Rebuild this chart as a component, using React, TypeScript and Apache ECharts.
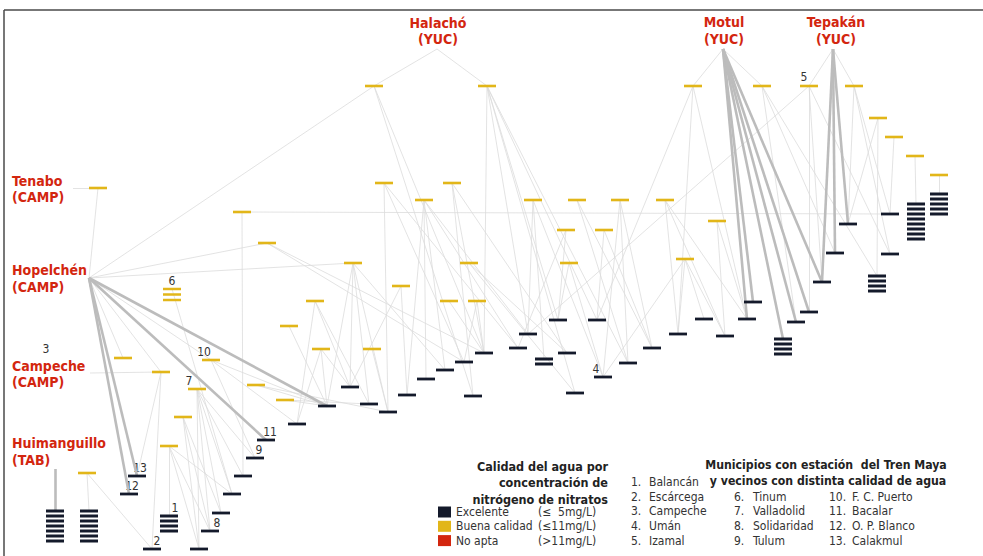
import React, { useEffect, useRef } from "react";
import * as echarts from "echarts";

// ---------- DATA ----------
// origins (municipios with red label): id, x, y
const origins: [string, number, number][] = [
  ["Hal", 437, 49], ["Mot", 723, 49], ["Tep", 833, 49],
  ["Ten", 73, 188], ["Hop", 89, 278], ["Cam", 90, 373], ["Hui", 55, 469],
];

// stations with "Buena calidad" (yellow): id, x, y, number of stations stacked
const yellowNodes: [string, number, number, number][] = [
  ["Y1", 374, 86, 1], ["Y2", 487, 86, 1], ["Y3", 693, 86, 1], ["Y4", 762, 86, 1], ["Y5", 809, 86, 1], ["Y6", 854, 86, 1],
  ["Y7", 878, 118, 1], ["Y8", 894, 137, 1], ["Y9", 915, 156, 1], ["Y10", 939, 175, 1],
  ["Y11", 98, 188, 1], ["Y12", 384, 183, 1], ["Y13", 452, 183, 1], ["Y14", 424, 200, 1], ["Y15", 533, 200, 1],
  ["Y16", 577, 200, 1], ["Y17", 620, 200, 1], ["Y18", 665, 200, 1],
  ["Y19", 242, 212, 1], ["Y20", 717, 221, 1], ["Y21", 566, 230, 1], ["Y22", 604, 230, 1], ["Y23", 267, 243, 1],
  ["Y24", 353, 263, 1], ["Y25", 469, 263, 1], ["Y26", 569, 263, 1], ["Y27", 685, 259, 1],
  ["Y28", 401, 286, 1], ["Y29", 315, 301, 1], ["Y30", 449, 301, 1], ["Y31", 477, 301, 1], ["Y32", 289, 326, 1],
  ["Y33", 321, 349, 1], ["Y34", 372, 349, 1], ["Y35", 123, 358, 1], ["Y36", 161, 372, 1], ["Y37", 211, 360, 1],
  ["Y38", 197, 389, 1], ["Y39", 256, 385, 1], ["Y40", 285, 400, 1], ["Y41", 183, 417, 1], ["Y42", 169, 446, 1],
  ["Y43", 87, 473, 1], ["Y44", 172, 289, 3],
];

// stations with "Excelente" quality (dark): id, x, y, number of stations stacked
const darkNodes: [string, number, number, number][] = [
  ["D1", 55, 511, 7], ["D2", 89, 511, 7], ["D3", 169, 516, 4], ["D4", 152, 549, 1], ["D5", 199, 549, 1],
  ["D6", 210, 531, 1], ["D7", 221, 513, 1], ["D8", 232, 494, 1], ["D9", 243, 476, 1], ["D10", 255, 458, 1],
  ["D11", 266, 440, 1], ["D12", 129, 494, 1], ["D13", 137, 476, 1], ["D14", 297, 424, 1], ["D15", 327, 406, 1],
  ["D16", 350, 387, 1], ["D17", 369, 404, 1], ["D18", 388, 412, 1], ["D19", 407, 395, 1], ["D20", 426, 379, 1],
  ["D21", 445, 370, 1], ["D22", 464, 362, 1], ["D23", 484, 353, 1], ["D24", 473, 396, 1], ["D25", 518, 348, 1],
  ["D26", 528, 334, 1], ["D27", 544, 359, 2], ["D28", 558, 320, 1], ["D29", 567, 353, 1], ["D30", 575, 393, 1],
  ["D31", 597, 320, 1], ["D32", 603, 377, 1], ["D33", 628, 363, 1], ["D34", 652, 348, 1], ["D35", 678, 334, 1],
  ["D36", 704, 319, 1], ["D37", 725, 336, 1], ["D38", 747, 319, 1], ["D39", 753, 302, 1], ["D40", 783, 339, 4],
  ["D41", 796, 322, 1], ["D42", 809, 312, 1], ["D43", 822, 282, 1], ["D44", 835, 253, 1], ["D45", 848, 224, 1],
  ["D46", 877, 276, 4], ["D47", 890, 254, 1], ["D48", 890, 214, 1], ["D49", 916, 204, 8], ["D50", 939, 194, 5],
];

// weak links (neighbour relations)
const thinLinks: [string, string][] = [
  ["Hal", "Y1"], ["Hal", "Y2"], ["Mot", "Y3"], ["Mot", "Y4"], ["Tep", "Y5"], ["Tep", "Y6"],
  ["Ten", "Y11"], ["Hop", "Y11"], ["Hop", "Y1"], ["Hop", "Y23"], ["Hop", "Y24"], ["Hop", "Y35"], ["Hop", "Y36"],
  ["Hop", "Y37"], ["Cam", "Y36"],
  ["Y1", "D23"], ["Y1", "D24"],
  ["Y2", "D23"], ["Y2", "D26"], ["Y2", "D28"], ["Y2", "D31"], ["Y2", "D30"], ["Y2", "D33"],
  ["Y3", "D31"], ["Y3", "D38"], ["Y3", "D35"],
  ["Y4", "D41"], ["Y4", "D44"], ["Y4", "D46"],
  ["Y5", "D43"], ["Y5", "D47"], ["Y5", "D26"], ["Y5", "D42"],
  ["Y6", "D45"], ["Y6", "D47"], ["Y6", "D48"],
  ["Y7", "D46"], ["Y7", "D45"], ["Y8", "D48"], ["Y9", "D49"], ["Y10", "D50"],
  ["Y12", "D18"], ["Y12", "D22"], ["Y12", "D25"],
  ["Y13", "D23"], ["Y13", "D29"], ["Y13", "D24"],
  ["Y14", "D19"], ["Y14", "D20"], ["Y14", "D21"], ["Y14", "D26"], ["Y14", "D25"],
  ["Y15", "D26"], ["Y15", "D27"], ["Y15", "D32"],
  ["Y16", "D33"], ["Y16", "D34"],
  ["Y17", "D32"], ["Y17", "D33"], ["Y17", "D34"],
  ["Y18", "D35"], ["Y18", "D37"], ["Y18", "D38"],
  ["Y19", "D48"], ["Y19", "D9"],
  ["Y20", "D37"], ["Y20", "D38"],
  ["Y21", "D28"], ["Y21", "D25"],
  ["Y22", "D34"], ["Y22", "D31"],
  ["Y23", "D22"], ["Y23", "D23"],
  ["Y24", "D15"], ["Y24", "D16"], ["Y24", "D17"], ["Y24", "D18"], ["Y24", "D21"],
  ["Y25", "D29"], ["Y25", "D30"],
  ["Y26", "D32"], ["Y26", "D28"],
  ["Y27", "D35"], ["Y27", "D36"], ["Y27", "D37"], ["Y27", "D32"],
  ["Y28", "D16"], ["Y28", "D19"],
  ["Y29", "D14"], ["Y29", "D16"], ["Y29", "D17"],
  ["Y30", "D23"], ["Y31", "D23"], ["Y31", "D22"],
  ["Y32", "D15"],
  ["Y33", "D14"], ["Y33", "D15"], ["Y33", "D16"],
  ["Y34", "D18"],
  ["Y36", "D4"], ["Y36", "D13"],
  ["Y37", "D14"], ["Y37", "D15"], ["Y37", "D10"],
  ["Y38", "D5"], ["Y38", "D6"], ["Y38", "D7"], ["Y38", "D8"], ["Y38", "D9"], ["Y38", "D10"],
  ["Y39", "D15"], ["Y39", "D18"],
  ["Y40", "D15"], ["Y40", "D17"],
  ["Y41", "D5"], ["Y41", "D6"], ["Y41", "D7"],
  ["Y42", "D3"], ["Y42", "D5"], ["Y42", "D6"], ["Y42", "D8"],
  ["Y43", "D2"], ["Y43", "D4"],
  ["Y44", "D8"],
];

// strong links (municipio -> station with different water quality)
const thickLinks: [string, string][] = [
  ["Hop", "D12"], ["Hop", "D13"], ["Hop", "D11"], ["Hop", "D15"], ["Hui", "D1"],
  ["Mot", "D38"], ["Mot", "D39"], ["Mot", "D40"], ["Mot", "D41"], ["Mot", "D42"], ["Mot", "D43"],
  ["Tep", "D43"], ["Tep", "D44"], ["Tep", "D45"],
];

// numbered Tren Maya municipios: node id, number
const numberedNodes: [string, string][] = [
  ["D3", "1"], ["D4", "2"], ["Cam", "3"], ["D32", "4"], ["Y5", "5"], ["Y44", "6"], ["Y38", "7"],
  ["D6", "8"], ["D10", "9"], ["Y37", "10"], ["D11", "11"], ["D12", "12"], ["D13", "13"],
];

const municipioNames: string[] = [
  "Balancán", "Escárcega", "Campeche", "Umán", "Izamal", "Tinum", "Valladolid",
  "Solidaridad", "Tulum", "F. C. Puerto", "Bacalar", "O. P. Blanco", "Calakmul",
];

const qualityClasses: [string, string][] = [
  ["Excelente", "(≤  5mg/L)"],
  ["Buena calidad", "(≤11mg/L)"],
  ["No apta", "(>11mg/L)"],
];

// ---------- STYLE ----------
const FONT = '"DejaVu Sans Condensed", "DejaVu Sans", sans-serif';
const RED = "#d3260f";
const YELLOW = "#e2b619";
const NAVY = "#141a2b";

function stackSymbol(n: number, pitch: number, t: number): string {
  let d = "";
  for (let i = 0; i < n; i++) {
    const y0 = i * pitch;
    d += `M0 ${y0} L18 ${y0} L18 ${y0 + t} L0 ${y0 + t} Z `;
  }
  return "path://" + d;
}

export default function App() {
  const ref = useRef<HTMLDivElement>(null);

  useEffect(() => {
    if (!ref.current) return;
    const chart = echarts.init(ref.current, undefined, { renderer: "svg" });

    const pos: Record<string, [number, number]> = {};
    origins.forEach(([id, x, y]) => (pos[id] = [x, y]));
    yellowNodes.forEach(([id, x, y]) => (pos[id] = [x, y]));
    darkNodes.forEach(([id, x, y]) => (pos[id] = [x, y]));

    const nodeData = (list: [string, number, number, number][], pitch: number, t: number) =>
      list.map(([id, x, y, n]) => ({
        name: id,
        value: [x, y],
        symbol: n === 1 ? "rect" : stackSymbol(n, pitch, t),
        symbolSize: [18, (n - 1) * pitch + t],
        symbolOffset: [0, ((n - 1) * pitch) / 2],
      }));

    const texts: any[] = [];
    const addText = (text: string, x: number, y: number, opts: any = {}) =>
      texts.push({
        type: "text",
        x,
        y,
        silent: true,
        style: {
          text,
          fill: opts.fill || "#2b2b2b",
          fontFamily: FONT,
          fontSize: opts.size || 12,
          fontWeight: opts.bold ? "bold" : "normal",
          align: opts.align || "left",
          verticalAlign: "middle",
        },
      });

    // region labels
    const red = { fill: RED, size: 14, bold: true };
    addText("Halachó", 438, 23, { ...red, align: "center" });
    addText("(YUC)", 438, 39, { ...red, align: "center" });
    addText("Motul", 724, 22, { ...red, align: "center" });
    addText("(YUC)", 724, 39, { ...red, align: "center" });
    addText("Tepakán", 836, 22, { ...red, align: "center" });
    addText("(YUC)", 836, 39, { ...red, align: "center" });
    addText("Tenabo", 12, 181, red);
    addText("(CAMP)", 12, 197, red);
    addText("Hopelchén", 12, 270, red);
    addText("(CAMP)", 12, 287, red);
    addText("Campeche", 12, 366, red);
    addText("(CAMP)", 12, 382, red);
    addText("Huimanguillo", 12, 443, red);
    addText("(TAB)", 12, 460, red);

    // number tags next to their nodes
    const tagOffset: Record<string, [number, number]> = {
      "1": [6, -8], "2": [5, -8], "3": [-44, -24], "4": [-7, -8], "5": [-5, -9], "6": [0, -8],
      "7": [-8, -8], "8": [7, -8], "9": [4, -8], "10": [-7, -8], "11": [4, -8], "12": [3, -8], "13": [3, -8],
    };
    numberedNodes.forEach(([id, label]) => {
      const [x, y] = pos[id];
      const [dx, dy] = tagOffset[label];
      addText(label, x + dx, y + dy, { size: 12, align: "center", fill: "#333" });
    });

    // legend: water quality
    const lt = { bold: true, size: 12.5, align: "right", fill: "#222" };
    addText("Calidad del agua por", 608, 466, lt);
    addText("concentración de", 608, 482, lt);
    addText("nitrógeno de nitratos", 608, 499, lt);
    const swatch = [NAVY, YELLOW, RED];
    const rects: any[] = [];
    qualityClasses.forEach(([name, range], i) => {
      const cy = 512 + i * 14.3;
      rects.push({ type: "rect", silent: true, shape: { x: 438, y: cy - 5.5, width: 13, height: 11 }, style: { fill: swatch[i] } });
      addText(name, 456, cy, { size: 12, fill: "#333" });
      addText(range, 538, cy, { size: 12, fill: "#333" });
    });

    // legend: municipios
    addText("Municipios con estación  del Tren Maya", 826, 465, { bold: true, size: 12.2, align: "center", fill: "#222" });
    addText("y vecinos con distinta calidad de agua", 828, 481, { bold: true, size: 12.2, align: "center", fill: "#222" });
    municipioNames.forEach((name, i) => {
      let col: number, row: number;
      if (i < 5) { col = 0; row = i; } else if (i < 9) { col = 1; row = i - 4; } else { col = 2; row = i - 8; }
      const numX = [631, 734, 829][col];
      const nameX = [649, 753, 852][col];
      const y = 482 + row * 14.7;
      addText(`${i + 1}.`, numX, y, { size: 12, fill: "#333" });
      addText(name, nameX, y, { size: 12, fill: "#333" });
    });

    const option: any = {
      animation: false,
      backgroundColor: "#ffffff",
      grid: { left: 0, right: 0, top: 0, bottom: 0 },
      xAxis: { type: "value", min: 0, max: 983, show: false },
      yAxis: { type: "value", min: 0, max: 556, inverse: true, show: false },
      series: [
        {
          type: "lines",
          coordinateSystem: "cartesian2d",
          silent: true,
          z: 1,
          lineStyle: { color: "#dcdcdc", width: 0.8, opacity: 1 },
          data: thinLinks.map(([a, b]) => ({ coords: [pos[a], pos[b]] })),
        },
        {
          type: "lines",
          coordinateSystem: "cartesian2d",
          silent: true,
          z: 2,
          lineStyle: { color: "#bcbcbc", width: 2.6, opacity: 1 },
          data: thickLinks.map(([a, b]) => ({ coords: [pos[a], pos[b]] })),
        },
        {
          type: "scatter",
          silent: true,
          z: 3,
          itemStyle: { color: YELLOW, opacity: 1 },
          data: nodeData(yellowNodes, 5.5, 2.6),
        },
        {
          type: "scatter",
          silent: true,
          z: 3,
          itemStyle: { color: NAVY, opacity: 1 },
          data: nodeData(darkNodes, 5.0, 2.8),
        },
      ],
      graphic: [
        { type: "line", silent: true, shape: { x1: 4, y1: 10, x2: 983, y2: 10 }, style: { stroke: "#4a4a4a", lineWidth: 1.5 } },
        { type: "line", silent: true, shape: { x1: 4, y1: 10, x2: 4, y2: 556 }, style: { stroke: "#4a4a4a", lineWidth: 1.5 } },
        ...rects,
        ...texts,
      ],
    };

    chart.setOption(option);
    return () => chart.dispose();
  }, []);

  return (
    <div
      ref={ref}
      style={{ position: "absolute", left: 0, top: 0, width: 983, height: 556, background: "#fff" }}
    />
  );
}
